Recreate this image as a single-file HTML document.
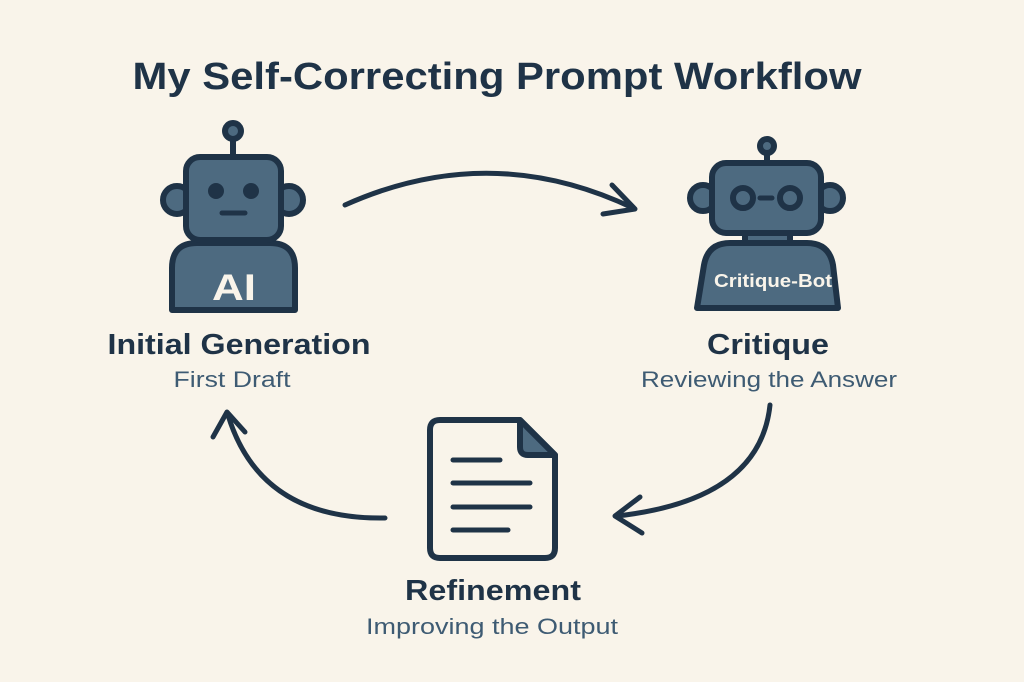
<!DOCTYPE html>
<html><head><meta charset="utf-8"><style>
html,body{margin:0;padding:0;background:#f9f4ea;}
svg{display:block;}
</style></head><body>
<svg width="1024" height="682" viewBox="0 0 1024 682" xmlns="http://www.w3.org/2000/svg">
<rect width="1024" height="682" fill="#f9f4ea"/>
<g font-family="Liberation Sans, sans-serif" text-anchor="middle" lengthAdjust="spacingAndGlyphs">
<text x="497" y="89" font-size="38" font-weight="bold" fill="#1f3347" textLength="729" lengthAdjust="spacingAndGlyphs">My Self-Correcting Prompt Workflow</text>
<text x="239" y="354" font-size="29" font-weight="bold" fill="#1f3347" textLength="263" lengthAdjust="spacingAndGlyphs">Initial Generation</text>
<text x="232" y="387" font-size="22" fill="#3e5b73" textLength="117" lengthAdjust="spacingAndGlyphs">First Draft</text>
<text x="768" y="354" font-size="29" font-weight="bold" fill="#1f3347" textLength="122" lengthAdjust="spacingAndGlyphs">Critique</text>
<text x="769" y="387" font-size="22" fill="#3e5b73" textLength="256" lengthAdjust="spacingAndGlyphs">Reviewing the Answer</text>
<text x="493" y="600" font-size="29" font-weight="bold" fill="#1f3347" textLength="176" lengthAdjust="spacingAndGlyphs">Refinement</text>
<text x="492" y="634" font-size="22" fill="#3e5b73" textLength="252" lengthAdjust="spacingAndGlyphs">Improving the Output</text>
</g>
<g stroke="#1f3347" stroke-width="6" fill="#4d6a80" stroke-linejoin="round" stroke-linecap="round">
<!-- robot 1 -->
<line x1="233" y1="138" x2="233" y2="157"/>
<circle cx="233" cy="131" r="8"/>
<circle cx="177" cy="200" r="14"/>
<circle cx="289" cy="200" r="14"/>
<path d="M172 310 V268 Q172 243 197 243 H270 Q295 243 295 268 V310 Z"/>
<rect x="186" y="157" width="95" height="83" rx="14"/>
<circle cx="216" cy="191" r="8" fill="#1f3347" stroke="none"/>
<circle cx="251" cy="191" r="8" fill="#1f3347" stroke="none"/>
<line x1="222" y1="213" x2="245" y2="213" stroke-width="5"/>
<!-- robot 2 -->
<line x1="767" y1="152" x2="767" y2="163"/>
<circle cx="767" cy="146" r="7"/>
<circle cx="703" cy="198" r="13"/>
<circle cx="830" cy="198" r="13"/>
<rect x="745" y="230" width="45" height="15"/>
<path d="M697 308 L704 265 Q708 243 730 243 H807 Q829 243 833 265 L838 308 Z"/>
<rect x="712" y="163" width="109" height="70" rx="14"/>
<circle cx="743" cy="198" r="10"/>
<circle cx="790" cy="198" r="10"/>
<line x1="760" y1="198" x2="772" y2="198" stroke-width="5"/>
<!-- doc -->
<path d="M440 420 H520 L555 455 V548 Q555 558 545 558 H440 Q430 558 430 548 V430 Q430 420 440 420 Z" fill="#f9f4ea"/>
<path d="M520 420 V447 Q520 455 528 455 H555 Z"/>
<g stroke-width="5">
<line x1="453" y1="460" x2="500" y2="460"/>
<line x1="453" y1="483" x2="530" y2="483"/>
<line x1="453" y1="507" x2="530" y2="507"/>
<line x1="453" y1="530" x2="508" y2="530"/>
</g>
<!-- arrows -->
<g fill="none" stroke-width="5">
<path d="M345 205 Q490 140 633 208"/>
<path d="M612 185 L635 209 L603 214"/>
<path d="M770 405 Q760 500 617 516"/>
<path d="M640 497 L615 516 L642 533"/>
<path d="M385 518 Q260 520 228 415"/>
<path d="M213 437 L227 412 L245 432"/>
</g>
</g>
<g font-family="Liberation Sans, sans-serif" text-anchor="middle" fill="#f9f4ea" font-weight="bold">
<text x="234" y="300" font-size="37" textLength="44" lengthAdjust="spacingAndGlyphs">AI</text>
<text x="773" y="287" font-size="18" textLength="118" lengthAdjust="spacingAndGlyphs">Critique-Bot</text>
</g>
</svg>
</body></html>
